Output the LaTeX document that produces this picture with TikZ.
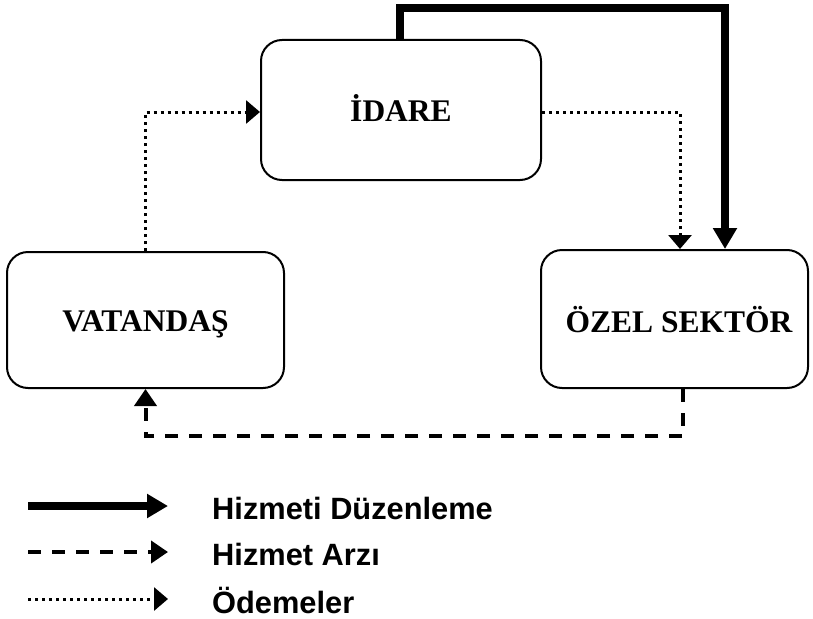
\documentclass[tikz,border=0pt]{standalone}
\usepackage{fontspec}
\setmainfont{Liberation Serif}
\newfontfamily\legendfont{Liberation Sans}
\usetikzlibrary{arrows.meta,calc}
\tikzset{
  box/.style={draw=black, line width=2pt, rounded corners=21pt, align=center,
    font=\fontsize{31.5}{36}\selectfont\bfseries, inner sep=0pt,
    text height=23pt, text depth=0pt},
  duzen/.style={line width=7.5pt, -{Triangle[length=21pt,width=23pt]}},
  arz/.style={line width=4pt, dash pattern=on 13pt off 11pt, -{Triangle[length=17pt,width=22pt]}},
  odeme/.style={line width=3pt, dash pattern=on 3pt off 4pt, -{Triangle[length=14pt,width=23pt]}},
  legtext/.style={anchor=west, font=\legendfont\fontsize{30.8}{36}\selectfont\bfseries, inner sep=0pt},
}
\begin{document}
\begin{tikzpicture}[x=1pt,y=-1pt]
\useasboundingbox (0,0) rectangle (813,618);
\node[box, minimum width=280pt, minimum height=140pt] (idare) at (401,110) {İDARE};
\node[box, minimum width=277pt, minimum height=136pt] (vat) at (145.5,320) {VATANDAŞ};
\node[box, minimum width=267pt, minimum height=138pt, text height=26pt] (ozel) at (674.5,319) {\hspace*{9pt}ÖZEL SEKTÖR};
% connectors
\draw[duzen] ([xshift=-1pt]idare.north) -- ++(0,-31) -| ([xshift=50.5pt]ozel.north);
\draw[odeme] ([yshift=-2pt]idare.east) -| ([xshift=5.5pt]ozel.north);
\draw[odeme] (vat.north) |- ([yshift=-2pt]idare.west);
\draw[arz] ([xshift=8.5pt]ozel.south) -- ++(0,47) -| (vat.south);
% legend
\coordinate (l1a) at (28,506); \coordinate (l1b) at (168,506);
\coordinate (l2a) at (28,552); \coordinate (l2b) at (168,552);
\coordinate (l3a) at (28,599); \coordinate (l3b) at (168,599);
\draw[duzen] (l1a) -- (l1b);
\draw[arz] (l2a) -- (l2b);
\draw[odeme] (l3a) -- (l3b);
\node[legtext] (t1) at (212,508) {Hizmeti Düzenleme};
\node[legtext] (t2) at (212,554) {Hizmet Arzı};
\node[legtext] (t3) at (212,600) {Ödemeler};
\end{tikzpicture}
\end{document}
